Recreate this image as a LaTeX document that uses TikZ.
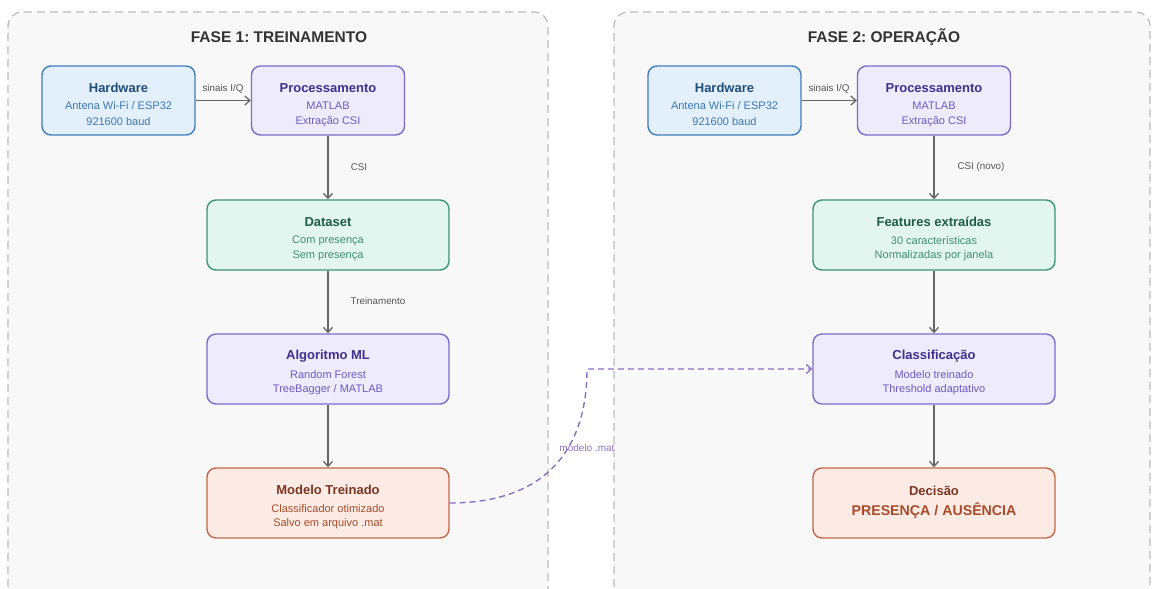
\documentclass[tikz,border=0pt]{standalone}
\usepackage{fontspec}
\setmainfont{Liberation Sans}
\usetikzlibrary{arrows.meta}
\frenchspacing
\definecolor{pfill}{HTML}{F8F8F8}
\definecolor{pedge}{HTML}{BBBBBB}
\definecolor{bfill}{HTML}{E3F0FC}
\definecolor{bedge}{HTML}{3F7DBA}
\definecolor{btit}{HTML}{1F4E79}
\definecolor{btxt}{HTML}{3A78B5}
\definecolor{vfill}{HTML}{EEEBFD}
\definecolor{vedge}{HTML}{7B6CC9}
\definecolor{vtit}{HTML}{3F2F8F}
\definecolor{vtxt}{HTML}{6B5BC4}
\definecolor{gfill}{HTML}{E2F5EF}
\definecolor{gedge}{HTML}{3D9474}
\definecolor{gtit}{HTML}{1F5C45}
\definecolor{gtxt}{HTML}{3D8F70}
\definecolor{ofill}{HTML}{FCEBE5}
\definecolor{oedge}{HTML}{C0694A}
\definecolor{otit}{HTML}{7A3520}
\definecolor{otxt}{HTML}{A94B2A}
\definecolor{arr}{HTML}{666666}
\definecolor{lbl}{HTML}{555555}
\definecolor{mlink}{HTML}{8A70C2}
\tikzset{
  panel/.style={draw=pedge,fill=pfill,line width=1.2pt,dash pattern=on 8pt off 5pt,rounded corners=14pt},
  box/.style={rectangle,rounded corners=9pt,line width=1.4pt,inner sep=0pt},
  small/.style={box,minimum width=153pt,minimum height=69pt},
  wide/.style={box,minimum width=242pt,minimum height=70pt},
  bluebox/.style={draw=bedge,fill=bfill},
  violetbox/.style={draw=vedge,fill=vfill},
  greenbox/.style={draw=gedge,fill=gfill},
  orangebox/.style={draw=oedge,fill=ofill},
  ttl/.style={font=\bfseries\fontsize{13}{15}\selectfont,inner sep=0pt},
  txt/.style={font=\fontsize{11}{13}\selectfont,inner sep=0pt},
  ptitle/.style={font=\bfseries\fontsize{15.5}{18}\selectfont,text=black!80,inner sep=0pt},
  elabel/.style={font=\fontsize{9.8}{11}\selectfont,text=lbl,inner sep=0pt},
  flow/.style={draw=arr,line width=1.4pt,-{Straight Barb[length=5pt,width=9pt,line width=1.3pt]}},
  mflow/.style={draw=mlink,line width=1.4pt,dash pattern=on 6pt off 4pt,-{Straight Barb[length=5pt,width=9pt,line width=1.3pt]}},
}
\begin{document}
\begin{tikzpicture}[x=1pt,y=-1pt]
\useasboundingbox (0,0) rectangle (1152,589);
% panels
\path[panel] (8,600) -- (8,12) -- (548,12) -- (548,600);
\node[ptitle] (p1t) at (279,37) {FASE 1: TREINAMENTO};
% link label (below panel 2)
\node[font=\fontsize{10}{12}\selectfont,text=mlink,inner sep=0pt] (mlab) at (587,448) {modelo .mat};
\path[panel] (614,600) -- (614,12) -- (1150,12) -- (1150,600);
\node[ptitle] (p2t) at (884,37) {FASE 2: OPERAÇÃO};

% ---- Phase 1 boxes
\node[small,bluebox] (hw1) at (118.5,100.5) {};
\node[ttl,text=btit] (hw1a) at (118.5,88) {Hardware};
\node[txt,text=btxt] (hw1b) at (118.5,106) {Antena Wi-Fi / ESP32};
\node[txt,text=btxt] (hw1c) at (118.5,122) {921600 baud};

\node[small,violetbox] (pr1) at (328,100.5) {};
\node[ttl,text=vtit] (pr1a) at (328,88) {Processamento};
\node[txt,text=vtxt] (pr1b) at (328,106) {MATLAB};
\node[txt,text=vtxt] (pr1c) at (328,122) {Extração CSI};

\node[wide,greenbox] (ds) at (328,235) {};
\node[ttl,text=gtit] (dsa) at (328,222) {Dataset};
\node[txt,text=gtxt] (dsb) at (328,241) {Com presença};
\node[txt,text=gtxt] (dsc) at (328,256) {Sem presença};

\node[wide,violetbox] (ml) at (328,369) {};
\node[ttl,text=vtit] (mla) at (328,356) {Algoritmo ML};
\node[txt,text=vtxt] (mlb) at (328,375) {Random Forest};
\node[txt,text=vtxt] (mlc) at (328,390) {TreeBagger / MATLAB};

\node[wide,orangebox] (mt) at (328,503) {};
\node[ttl,text=otit] (mta) at (328,490) {Modelo Treinado};
\node[txt,text=otxt] (mtb) at (328,509) {Classificador otimizado};
\node[txt,text=otxt] (mtc) at (328,524) {Salvo em arquivo .mat};

% ---- Phase 2 boxes
\node[small,bluebox] (hw2) at (724.5,100.5) {};
\node[ttl,text=btit] (hw2a) at (724.5,88) {Hardware};
\node[txt,text=btxt] (hw2b) at (724.5,106) {Antena Wi-Fi / ESP32};
\node[txt,text=btxt] (hw2c) at (724.5,122) {921600 baud};

\node[small,violetbox] (pr2) at (934,100.5) {};
\node[ttl,text=vtit] (pr2a) at (934,88) {Processamento};
\node[txt,text=vtxt] (pr2b) at (934,106) {MATLAB};
\node[txt,text=vtxt] (pr2c) at (934,122) {Extração CSI};

\node[wide,greenbox] (fe) at (934,235) {};
\node[ttl,text=gtit] (fea) at (934,222) {Features extraídas};
\node[txt,text=gtxt] (feb) at (934,241) {30 características};
\node[txt,text=gtxt] (fec) at (934,256) {Normalizadas por janela};

\node[wide,violetbox] (cl) at (934,369) {};
\node[ttl,text=vtit] (cla) at (934,356) {Classificação};
\node[txt,text=vtxt] (clb) at (934,375) {Modelo treinado};
\node[txt,text=vtxt] (clc) at (934,390) {Threshold adaptativo};

\node[wide,orangebox] (dc) at (934,503) {};
\node[ttl,text=otit] (dca) at (934,491) {Decisão};
\node[font=\bfseries\fontsize{14.2}{16}\selectfont,text=otxt,inner sep=0pt] (dcb) at (934,511) {PRESENÇA / AUSÊNCIA};

% ---- connectors phase 1
\draw[flow] (hw1) -- (pr1);
\node[elabel] (l1) at (223,89) {sinais I/Q};
\draw[flow] (pr1) -- (ds);
\node[elabel] (l2) at (359,167) {CSI};
\draw[flow] (ds) -- (ml);
\node[elabel] (l3) at (378,301) {Treinamento};
\draw[flow] (ml) -- (mt);

% ---- connectors phase 2
\draw[flow] (hw2) -- (pr2);
\node[elabel] (l4) at (829,89) {sinais I/Q};
\draw[flow] (pr2) -- (fe);
\node[elabel] (l5) at (981,167) {CSI (novo)};
\draw[flow] (fe) -- (cl);
\draw[flow] (cl) -- (dc);

% ---- model link
\coordinate (bend) at (587,369);
\draw[mflow] (mt.east) .. controls (545,503) and (587,450) .. (bend) -- (cl.west);
\end{tikzpicture}
\end{document}
